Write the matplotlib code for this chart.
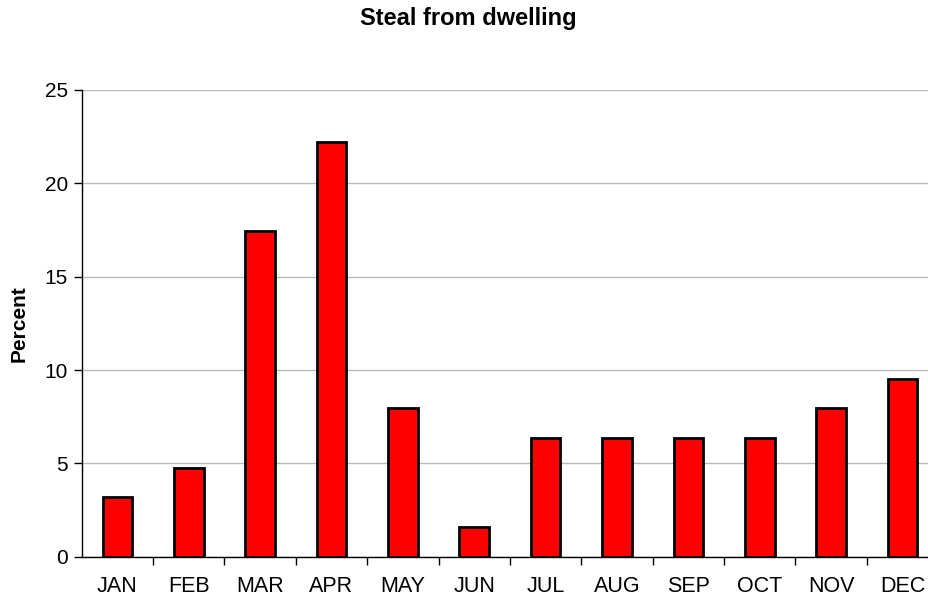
import matplotlib
matplotlib.use("Agg")
import matplotlib.pyplot as plt

months = ["JAN", "FEB", "MAR", "APR", "MAY", "JUN", "JUL", "AUG", "SEP", "OCT", "NOV", "DEC"]
percent = [3.17, 4.76, 17.46, 22.22, 7.94, 1.59, 6.35, 6.35, 6.35, 6.35, 7.94, 9.52]

plt.rcParams['font.family'] = ['Liberation Sans', 'DejaVu Sans']

fig = plt.figure(figsize=(9.29, 6.02), dpi=100)
ax = fig.add_axes([0.0879, 0.0753, 0.922, 0.7752])

x = range(len(months))
ax.bar(x, percent, width=0.414, color="#ff0000", edgecolor="black", linewidth=2, zorder=3)

ax.set_xlim(-0.5, 11.5)
ax.set_ylim(0, 25)
ax.set_yticks([0, 5, 10, 15, 20, 25])
ax.yaxis.grid(True, color="#b8b8b8", linewidth=1, zorder=0)

# ticks sit between the categories, labels under the bars
ax.set_xticks([i + 0.5 for i in range(len(months))], minor=False)
ax.set_xticklabels([])
ax.set_xticks(list(x), minor=True)
ax.set_xticklabels(months, minor=True)
ax.tick_params(axis="x", which="minor", length=0, pad=14, labelsize=15.5)
ax.tick_params(axis="x", which="major", length=6, width=1, direction="out")
ax.tick_params(axis="y", length=6, width=1, direction="out", labelsize=15, pad=4)

for s in ["top", "right"]:
    ax.spines[s].set_visible(False)
ax.spines["left"].set_linewidth(1)
ax.spines["bottom"].set_linewidth(1)

ax.set_ylabel("Percent", fontsize=15, fontweight="bold", labelpad=11)
fig.text(0.504, 0.9585, "Steal from dwelling", ha="center", va="baseline", fontsize=17, fontweight="bold")

fig.savefig("out.png", dpi=100)
